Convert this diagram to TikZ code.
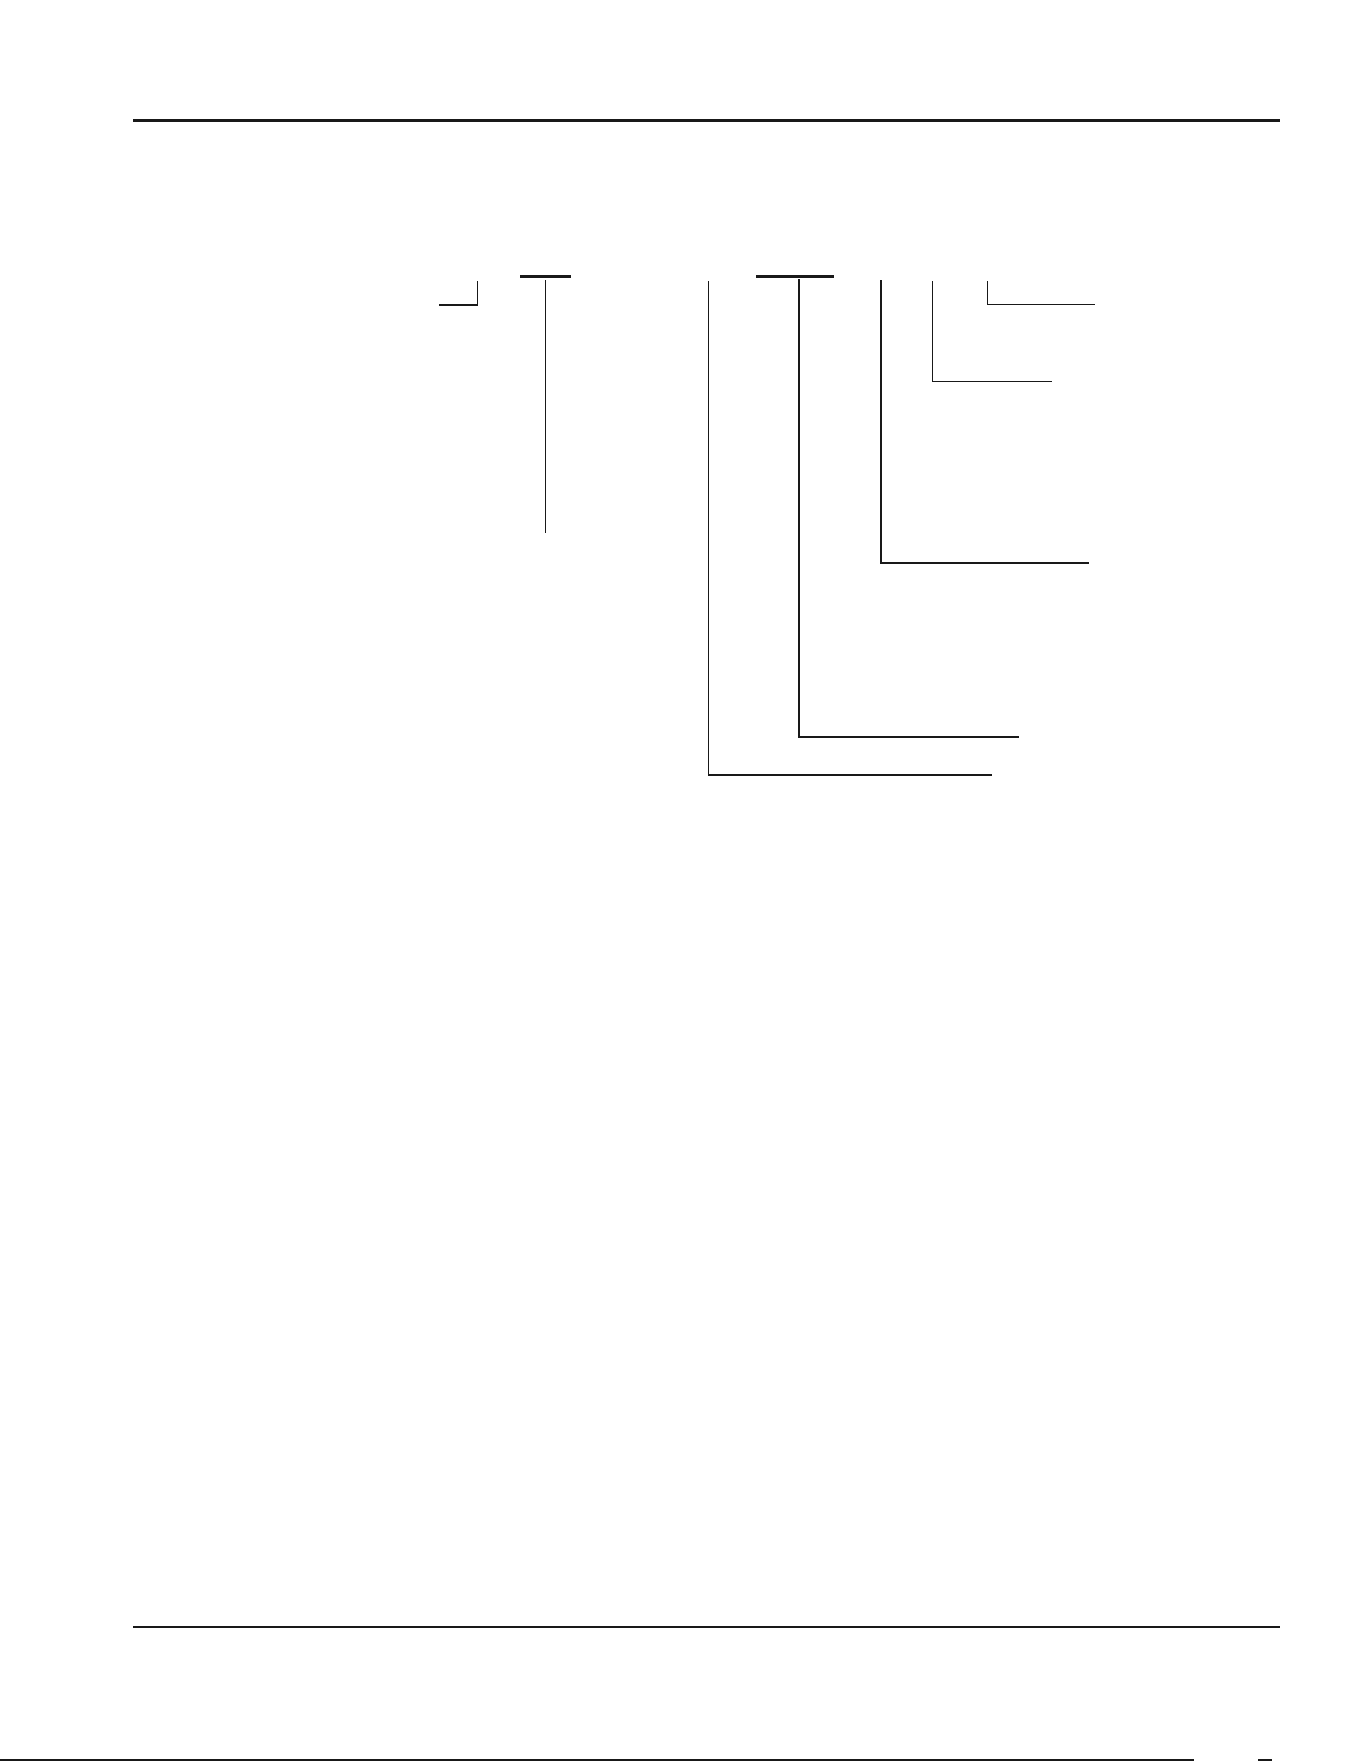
\documentclass[tikz,border=0pt]{standalone}
\begin{document}
\begin{tikzpicture}[x=1pt,y=-1pt,
  leader/.style={draw=black!90,line width=1.3pt,line join=miter,line cap=butt},
  leaderb/.style={draw=black!90,line width=1.7pt,line join=miter,line cap=butt},
  bar/.style={draw=black!90,line width=3pt,line cap=butt},
  rule/.style={draw=black!90,line cap=butt}]
\useasboundingbox[fill=white] (0,0) rectangle (1361,1761);
% top and bottom rules
\coordinate (tl) at (133,120); \coordinate (tr) at (1280,120);
\draw[rule,line width=3pt] (tl) -- (tr);
\coordinate (bl) at (133,1626.5); \coordinate (br) at (1280,1626.5);
\draw[rule,line width=2pt] (bl) -- (br);
\coordinate (el) at (0,1760); \coordinate (er) at (1194,1760);
\draw[rule,line width=1.2pt] (el) -- (er);
\coordinate (sl) at (1258,1760); \coordinate (sr) at (1272,1760);
\draw[rule,line width=1.2pt] (sl) -- (sr);
% bars
\coordinate (b1l) at (520,276.5); \coordinate (b1r) at (571,276.5);
\draw[bar] (b1l) -- (b1r);
\coordinate (b2l) at (756,276.5); \coordinate (b2r) at (834,276.5);
\draw[bar] (b2l) -- (b2r);
% leader 1: elbow
\coordinate (a1) at (477.7,281); \coordinate (a1e) at (439,305);
\draw[leader] (a1) |- (a1e);
% leader 2: straight
\coordinate (a2) at (545.3,280); \coordinate (a2e) at (545.3,533);
\draw[leader] (a2) -- (a2e);
% leader 3
\coordinate (a3) at (708.3,281); \coordinate (a3e) at (992,775);
\draw[leader] (a3) |- (a3e);
% leader 4
\coordinate (a4) at (799,279); \coordinate (a4e) at (1018.7,737);
\draw[leaderb] (a4) |- (a4e);
% leader 5
\coordinate (a5) at (880.7,280); \coordinate (a5e) at (1089,562.7);
\draw[leaderb] (a5) |- (a5e);
% leader 6
\coordinate (a6) at (932.3,281); \coordinate (a6e) at (1051.7,381.7);
\draw[leader] (a6) |- (a6e);
% leader 7
\coordinate (a7) at (987.3,281); \coordinate (a7e) at (1095,304.3);
\draw[leader] (a7) |- (a7e);
\end{tikzpicture}
\end{document}
